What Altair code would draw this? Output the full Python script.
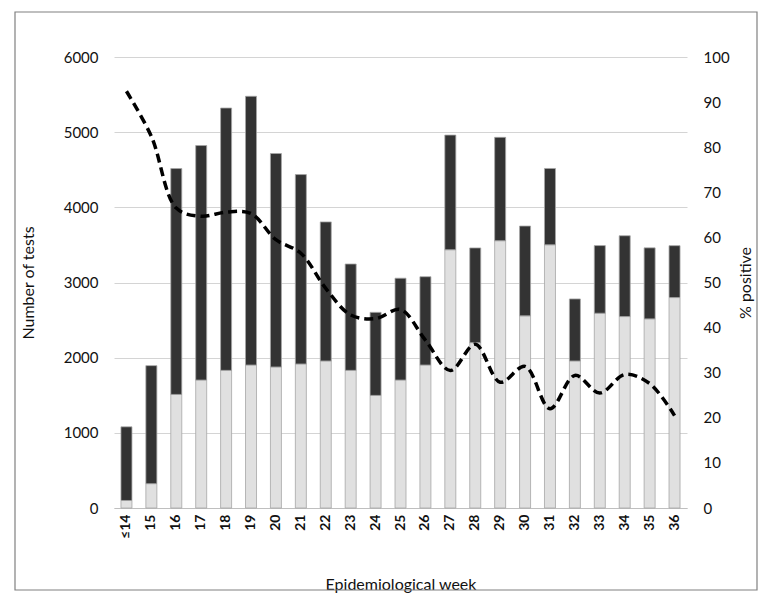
import altair as alt
import pandas as pd

weeks = ["≤14", "15", "16", "17", "18", "19", "20", "21", "22", "23", "24", "25",
         "26", "27", "28", "29", "30", "31", "32", "33", "34", "35", "36"]
negative = [100, 324, 1511, 1702, 1831, 1902, 1876, 1916, 1956, 1831, 1498, 1702,
            1902, 3436, 2200, 3556, 2556, 3502, 1956, 2591, 2547, 2516, 2800]
positive = [980, 1570, 3005, 3120, 3490, 3575, 2840, 2520, 1850, 1415, 1105, 1355,
            1175, 1525, 1260, 1375, 1195, 1015, 825, 900, 1075, 945, 690]
pct_positive = [92.4, 82.4, 66.5, 64.7, 65.6, 65.3, 59.5, 56.5, 48.7, 42.8, 42.0, 44.0,
                37.2, 30.5, 36.3, 27.9, 31.4, 22.0, 29.4, 25.5, 29.6, 27.6, 20.5]

rows = []
for w, n, p in zip(weeks, negative, positive):
    rows.append({"week": w, "result": "negative", "tests": n, "ord": 0})
    rows.append({"week": w, "result": "positive", "tests": p, "ord": 1})
bars_df = pd.DataFrame(rows)
line_df = pd.DataFrame({"week": weeks, "pct": pct_positive})

FONT = "Lato"
TXT = "#111111"

x_enc = alt.X(
    "week:N", sort=weeks,
    scale=alt.Scale(paddingInner=0, paddingOuter=0),
    axis=alt.Axis(
        title="Epidemiological week", labelAngle=-90, labelFontWeight="bold",
        labelFontSize=14, labelPadding=6, ticks=False, domainColor="#bfbfbf",
        titleFontSize=16, titleFontWeight="normal", titleY=76, titleBaseline="middle",
        labelColor=TXT, titleColor=TXT, labelFont=FONT, titleFont=FONT,
    ),
)

bars = alt.Chart(bars_df).mark_bar(size=11, stroke="#a6a6a6", strokeWidth=0.8).encode(
    x=x_enc,
    y=alt.Y(
        "tests:Q", stack="zero",
        scale=alt.Scale(domain=[0, 6000], nice=False),
        axis=alt.Axis(
            title="Number of tests", values=[0, 1000, 2000, 3000, 4000, 5000, 6000],
            format="d",
            ticks=False, domain=False, gridColor="#d4d4d4", labelPadding=16,
            labelFontSize=15, titleFontSize=16, titleFontWeight="normal",
            titleAngle=-90, titleX=-86, titleY=225.5, titleAlign="center",
            titleBaseline="middle", labelColor=TXT, titleColor=TXT,
            labelFont=FONT, titleFont=FONT,
        ),
    ),
    color=alt.Color("result:N", scale=alt.Scale(domain=["negative", "positive"],
                                                 range=["#e0e0e0", "#333333"]),
                    legend=None),
    order=alt.Order("ord:Q", sort="ascending"),
)

line = alt.Chart(line_df).mark_line(
    color="black", strokeWidth=3.5, strokeDash=[9, 5], interpolate="catmull-rom"
).encode(
    x=alt.X("week:N", sort=weeks),
    y=alt.Y(
        "pct:Q", scale=alt.Scale(domain=[0, 100], nice=False),
        axis=alt.Axis(
            orient="right", title="% positive",
            values=[0, 10, 20, 30, 40, 50, 60, 70, 80, 90, 100],
            ticks=False, domain=False, grid=False, labelPadding=16,
            labelFontSize=15, titleFontSize=16, titleFontWeight="normal",
            titleAngle=-90, titleX=58, titleY=225.5, titleAlign="center",
            titleBaseline="middle", labelColor=TXT, titleColor=TXT,
            labelFont=FONT, titleFont=FONT,
        ),
    ),
)

border = alt.Chart(alt.Data(values=[{"a": 1}])).mark_rect(
    fillOpacity=0, stroke="#808080", strokeWidth=1.2
).encode(
    x=alt.value(-99), x2=alt.value(643), y=alt.value(-45), y2=alt.value(533)
)

chart = alt.layer(bars, line, border).resolve_scale(y="independent").properties(
    width=573, height=451,
    autosize=alt.AutoSizeParams(type="none"),
    padding={"left": 106, "top": 49, "right": 71, "bottom": 85},
    background="white",
).configure_view(stroke=None)

chart.save("out.html", embed_options={"renderer": "svg", "actions": False})
